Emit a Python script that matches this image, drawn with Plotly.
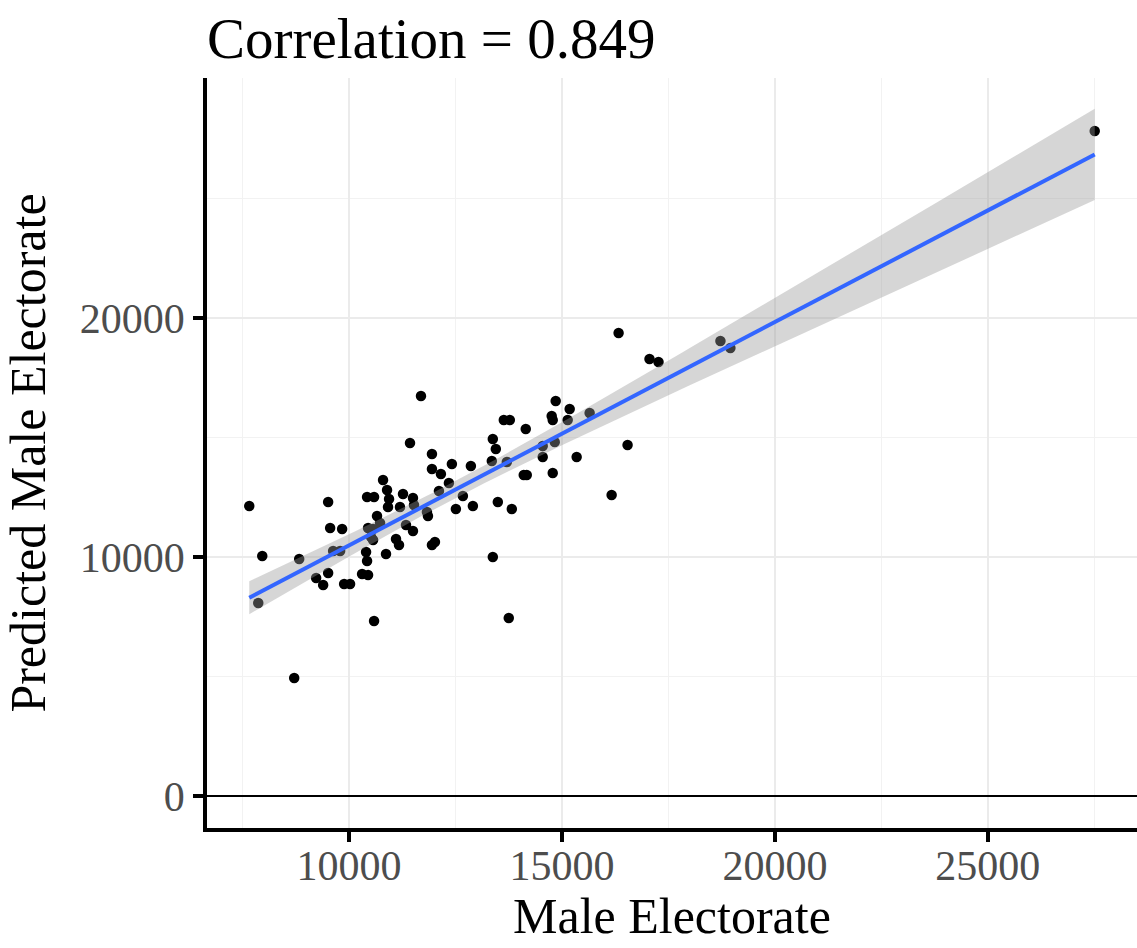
import numpy as np
import plotly.graph_objects as go

# Values
male_electorate = [
    7656, 7867, 7961, 8711, 8828, 9226, 9391, 9508, 9555, 9836,
    9508, 9625, 9789, 9883, 10023, 10305, 10445, 10398, 10422, 10445,
    10563, 10516, 10563, 10656, 10727, 10867, 10797, 10422, 10586, 10891,
    10938, 10914, 11195, 11266, 11500, 11336, 11500, 11102, 11172, 11430,
    11688, 10586, 11524, 11828, 11852, 11946, 11946, 12156, 12414, 12860,
    12344, 12110, 12672, 12508, 12907, 13493, 13821, 11946, 12016, 13375,
    13352, 13704, 13375, 13446, 13633, 13774, 14149, 14102, 14172, 14547,
    14829, 14547, 15344, 14782, 14852, 15180, 14758, 14782, 15133, 15649,
    16540, 16165, 13750, 16329, 17055, 17266, 18720, 18954, 27510,
]
predicted_male_electorate = [
    12134, 8075, 10042, 4937, 9916, 9121, 8828, 12301, 11213, 11171,
    9330, 10251, 10251, 8870, 8870, 9288, 9247, 10209, 9832, 11213,
    11171, 10837, 10711, 11715, 11422, 10125, 13221, 12510, 12510, 12803,
    12426, 12092, 12092, 12636, 12468, 11339, 11088, 10753, 10502, 14770,
    16736, 7322, 12175, 11883, 11715, 14309, 13682, 13472, 13891, 13807,
    13096, 12761, 12552, 12008, 12134, 12301, 12008, 10502, 10627, 10000,
    14016, 13975, 14937, 14518, 15732, 15732, 15355, 13431, 13431, 14644,
    14811, 14184, 14184, 13514, 16527, 16192, 15899, 15732, 15732, 16025,
    14686, 12594, 7448, 19372, 18284, 18159, 19037, 18744, 27824,
]

x_major = [10000, 15000, 20000, 25000]
x_minor = [7500, 12500, 17500, 22500, 27500]
y_major = [0, 10000, 20000]
y_minor = [5000, 15000, 25000]

title_text = "Correlation = 0.849"
x_title = "Male Electorate"
y_title = "Predicted Male Electorate"

# Linear fit with 95% confidence band (like geom_smooth(method="lm"))
x = np.array(male_electorate, dtype=float)
y = np.array(predicted_male_electorate, dtype=float)
n = len(x)
slope, intercept = np.polyfit(x, y, 1)
resid = y - (intercept + slope * x)
s = np.sqrt(np.sum(resid ** 2) / (n - 2))
xbar = x.mean()
sxx = np.sum((x - xbar) ** 2)
xs = np.linspace(x.min(), x.max(), 120)
yhat = intercept + slope * xs
se = s * np.sqrt(1.0 / n + (xs - xbar) ** 2 / sxx)
tq = 1.988
upper = yhat + tq * se
lower = yhat - tq * se

FONT = "Liberation Serif"

W, H = 1137, 948
ML, MT, MR, MB = 207, 78, 0, 120
plot_h = H - MT - MB

fig = go.Figure()
fig.add_trace(go.Scatter(
    x=x, y=y, mode="markers",
    marker=dict(color="black", size=10.5, line=dict(width=0)),
    showlegend=False, hoverinfo="x+y",
))
fig.add_trace(go.Scatter(
    x=np.concatenate([xs, xs[::-1]]),
    y=np.concatenate([upper, lower[::-1]]),
    fill="toself", fillcolor="rgba(153,153,153,0.4)",
    line=dict(width=0), mode="lines", showlegend=False, hoverinfo="skip",
))
fig.add_trace(go.Scatter(
    x=xs, y=yhat, mode="lines",
    line=dict(color="#3366FF", width=4),
    showlegend=False, hoverinfo="skip",
))

fig.update_layout(
    width=W, height=H,
    paper_bgcolor="white", plot_bgcolor="white",
    margin=dict(l=ML, r=MR, t=MT, b=MB, pad=0),
    font=dict(family=FONT, color="black"),
    title=dict(
        text=title_text, x=0, xref="paper", xanchor="left",
        y=1 - 38 / H, yref="container", yanchor="middle",
        font=dict(family=FONT, size=57, color="black"),
    ),
    annotations=[
        dict(text=x_title, xref="paper", yref="paper", x=0.5, y=-88 / plot_h,
             xanchor="center", yanchor="middle", showarrow=False,
             font=dict(family=FONT, size=50, color="black")),
    ],
)
fig.update_xaxes(
    range=[6663, 28503], automargin=False,
    tickvals=x_major, ticktext=[str(v) for v in x_major],
    showgrid=True, gridcolor="#EBEBEB", gridwidth=1.5,
    minor=dict(tickvals=x_minor, showgrid=True, gridcolor="#F2F2F2", gridwidth=1, ticklen=0),
    showline=True, linecolor="black", linewidth=3.5,
    ticks="outside", ticklen=10, tickwidth=3.5, tickcolor="black",
    tickfont=dict(family=FONT, size=42, color="#4D4D4D"),
    ticklabelstandoff=-12,
    zeroline=False,
)
fig.update_yaxes(
    range=[-1339, 30042], automargin=False,
    tickvals=y_major, ticktext=[str(v) for v in y_major],
    showgrid=True, gridcolor="#EBEBEB", gridwidth=1.5,
    minor=dict(tickvals=y_minor, showgrid=True, gridcolor="#F2F2F2", gridwidth=1, ticklen=0),
    showline=True, linecolor="black", linewidth=3.5,
    ticks="outside", ticklen=10, tickwidth=3.5, tickcolor="black",
    tickfont=dict(family=FONT, size=42, color="#4D4D4D"),
    title=dict(text=y_title, font=dict(family=FONT, size=50, color="black"), standoff=29),
    zeroline=True, zerolinecolor="black", zerolinewidth=2,
)

# Remove the default 8px page margin so the figure sits at the page's corner
fig.write_html(
    "out.html",
    config={"displayModeBar": False},
    post_script="document.body.style.margin='0px';",
)
